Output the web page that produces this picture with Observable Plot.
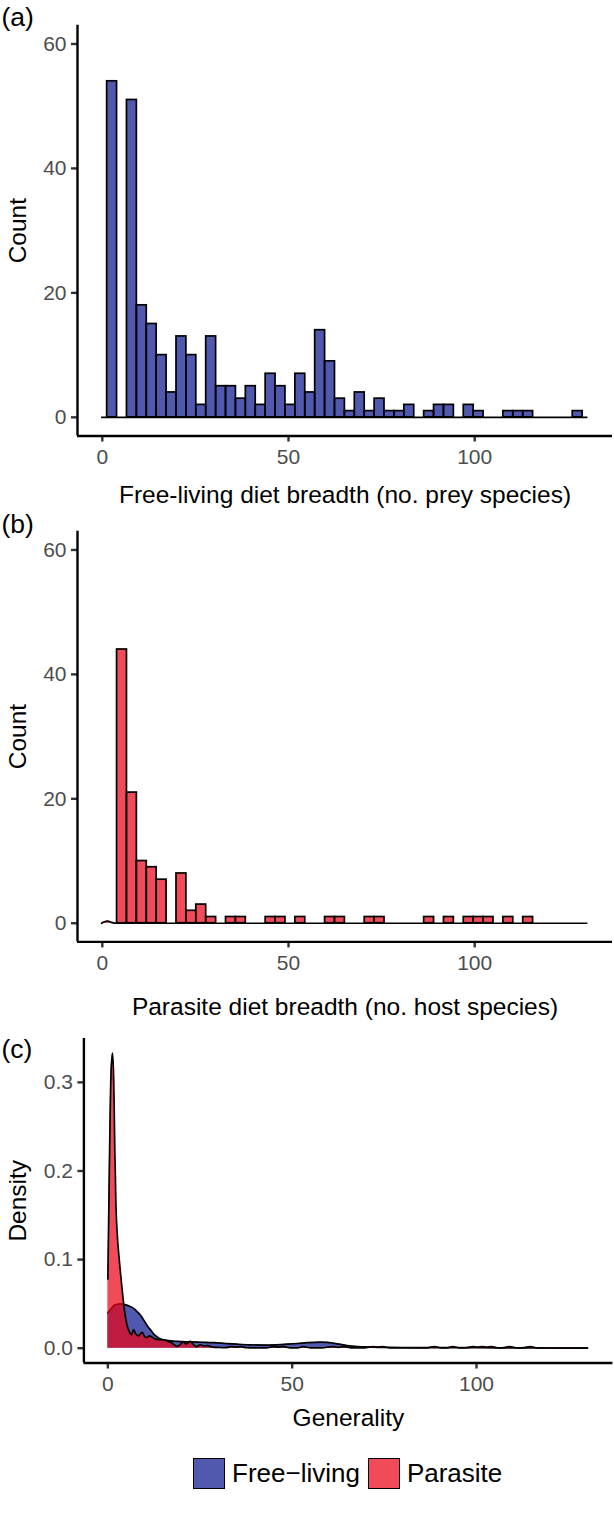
<!DOCTYPE html>
<html>
<head>
<meta charset="utf-8">
<script src="https://cdn.jsdelivr.net/npm/d3@7"></script>
<script src="https://cdn.jsdelivr.net/npm/@observablehq/plot@0.6"></script>
<style>
  body { margin: 0; background: #ffffff; }
  #root { position: relative; width: 614px; height: 1517px; overflow: hidden;
          font-family: "Liberation Sans", Arial, Helvetica, sans-serif; }
  .panel { position: absolute; left: 0; }
  #legend { position: absolute; left: 193px; top: 1458px; display: flex; align-items: center; }
  .key { width: 30px; height: 29px; border: 1.6px solid #000; }
  .lab { font-size: 26px; color: #000; margin-left: 7px; margin-right: 8px; line-height: 31px; }
</style>
</head>
<body>
<div id="root"></div>
<script>
// ---------- data ----------
// histogram bins (ggplot-style equal-width bins)
const binStart = 1.3;
const binWidth = 2.66;
const freeCounts = [54,0,51,18,15,10,4,13,10,2,13,5,5,3,5,2,7,5,2,7,4,14,9,3,1,4,1,3,1,1,2,0,1,2,2,0,2,1,0,0,1,1,1,0,0,0,0,1];
const parasiteCounts = [0,44,21,10,9,7,0,8,2,3,1,0,1,1,0,0,1,1,0,1,0,0,1,1,0,0,1,1,0,0,0,0,1,0,1,0,1,1,1,0,1,0,1,0,0,0,0,0];
const histRange = [-0.2, 130.4];
// small density wiggle at the start of panel (b)
const parasiteBump = [[-0.2,0],[0.6,0.25],[1.4,0.35],[2.2,0.2],[3.0,0.05],[4.0,0]];

// densities of generality: [generality, density]
const freeDensity = [[0,0.040],[0.8,0.044],[1.6,0.048],[2.5,0.0495],[3.4,0.050],[4.3,0.0495],[5.5,0.048],[7.0,0.045],[8.0,0.041],[8.8,0.0375],[9.7,0.032],[10.6,0.026],[11.5,0.021],[12.4,0.0162],[13.3,0.013],[14.2,0.0105],[16.0,0.0088],[18.8,0.0077],[22.4,0.0071],[25.5,0.0067],[28.8,0.0062],[32.0,0.0053],[35.1,0.0045],[38.5,0.0038],[42.4,0.0035],[45.5,0.0038],[48.7,0.0045],[51.5,0.0053],[54.1,0.0062],[57.7,0.0068],[59.5,0.0066],[61.4,0.0055],[63.2,0.0043],[65.0,0.003],[67.0,0.002],[69.5,0.0015],[74.0,0.001],[80.0,0.0008],[90.0,0.0007],[100.0,0.0005],[110.0,0.0004],[120.0,0.0002],[130.1,0.0001]];
const parasiteDensity = [[0,0.078],[0.3,0.17],[0.6,0.26],[0.9,0.315],[1.3,0.333],[1.6,0.30],[1.9,0.22],[2.2,0.16],[2.6,0.125],[3.0,0.104],[3.4,0.086],[3.9,0.065],[4.5,0.043],[5.2,0.026],[5.9,0.018],[6.4,0.015],[7.0,0.021],[7.6,0.016],[8.3,0.014],[9.3,0.018],[10.0,0.013],[10.6,0.012],[11.3,0.014],[12.0,0.0125],[12.8,0.0105],[13.6,0.0098],[14.4,0.0096],[15.2,0.0093],[16.2,0.008],[17.0,0.0066],[18.0,0.004],[18.8,0.0021],[19.6,0.004],[20.4,0.007],[21.2,0.0048],[22.4,0.0076],[23.2,0.004],[24.0,0.0018],[25.1,0.0039],[26.0,0.0025],[27.0,0.003],[28.5,0.0012],[30.5,0.0008],[32.0,0.0006],[33.5,0.0018],[35.0,0.0012],[36.0,0.0018],[37.5,0.0006],[40.0,0.0003],[43.0,0.0004],[45.0,0.0018],[46.3,0.0012],[47.5,0.0018],[49.5,0.0004],[51.5,0.0004],[53.0,0.0018],[55.0,0.0004],[58.0,0.0003],[61.0,0.0018],[62.5,0.001],[64.0,0.0018],[66.0,0.0004],[69.0,0.0002],[72.0,0.0018],[73.3,0.0011],[74.5,0.0018],[76.5,0.0004],[82.0,0.0002],[86.5,0.0004],[88.5,0.0018],[90.5,0.0004],[92.0,0.0004],[93.5,0.0018],[95.5,0.0004],[97.5,0.0006],[99.0,0.0018],[100.3,0.0012],[101.5,0.0018],[102.8,0.0012],[104.0,0.0018],[106.0,0.0004],[107.5,0.0006],[109.0,0.0018],[111.0,0.0004],[113.0,0.0006],[114.5,0.0018],[116.5,0.0004],[120.0,0.0002],[125.0,0.0001],[130.1,0.0001]];

// ticks and labels
const xTicks = [0, 50, 100];
const countTicks = [0, 20, 40, 60];
const densityTicks = [0, 0.1, 0.2, 0.3];
const tags = ["(a)", "(b)", "(c)"];
const xTitles = ["Free-living diet breadth (no. prey species)", "Parasite diet breadth (no. host species)", "Generality"];
const yTitles = ["Count", "Count", "Density"];
const legendLabels = ["Free\u2212living", "Parasite"];

// ---------- style ----------
const FONT = '"Liberation Sans", Arial, Helvetica, sans-serif';
const BLUE = "#05138A", RED = "#EC0418";
const BLUE_ALPHA = 0.7, RED_ALPHA = 0.72;
const TICK_FS = 21, TITLE_FS = 24.5, TAG_FS = 26.5;
const AXW = 2.4, OUTW = 1.7;

const bins = counts => counts.map((c, i) => ({x1: binStart + i * binWidth, x2: binStart + (i + 1) * binWidth, count: c})).filter(d => d.count > 0);

function axes(xDom, yDom, yTicks, yFmt) {
  return [
    Plot.axisX({ticks: xTicks, tickSize: 6, tickPadding: 7, fontSize: TICK_FS, fill: "#4D4D4D", stroke: "#333333", strokeWidth: AXW, label: null}),
    Plot.axisY({ticks: yTicks, tickSize: 6, tickPadding: 5, fontSize: TICK_FS, fill: "#4D4D4D", stroke: "#333333", strokeWidth: AXW, label: null, tickFormat: yFmt}),
    Plot.ruleX([xDom[0]], {stroke: "black", strokeWidth: AXW}),
    Plot.ruleY([yDom[0]], {stroke: "black", strokeWidth: AXW})
  ];
}
function labels(i, yTitleDx, xTitleDy, tagDx, tagDy) {
  return [
    Plot.text([tags[i]], {text: d => d, frameAnchor: "top-left", dx: tagDx, dy: tagDy, textAnchor: "start", lineAnchor: "bottom", fontSize: TAG_FS, fill: "black", fontFamily: FONT}),
    Plot.text([xTitles[i]], {text: d => d, frameAnchor: "bottom", dy: xTitleDy, textAnchor: "middle", lineAnchor: "bottom", fontSize: TITLE_FS, fill: "black", fontFamily: FONT}),
    Plot.text([yTitles[i]], {text: d => d, frameAnchor: "left", dx: yTitleDx, rotate: -90, textAnchor: "middle", lineAnchor: "bottom", fontSize: TITLE_FS, fill: "black", fontFamily: FONT})
  ];
}

const root = document.getElementById("root");
function place(svg, top) {
  const wrap = document.createElement("div");
  wrap.className = "panel";
  wrap.style.top = top + "px";
  wrap.appendChild(svg);
  root.appendChild(wrap);
}

const xDomAB = [-6.66, 137], yDomAB = [-3, 63];
const xDomC = [-6.5, 137], yDomC = [-0.0167, 0.3495];
const common = {width: 614, style: {fontFamily: FONT, fontSize: TICK_FS + "px", background: "transparent", overflow: "visible"}};

// (a)
place(Plot.plot({
  ...common, height: 506,
  marginTop: 24.8, marginBottom: 70.5, marginLeft: 77, marginRight: 2,
  x: {domain: xDomAB}, y: {domain: yDomAB},
  marks: [
    Plot.ruleY([0], {x1: histRange[0], x2: histRange[1], stroke: "black", strokeWidth: OUTW}),
    Plot.rectY(bins(freeCounts), {x1: "x1", x2: "x2", y: "count", fill: BLUE, fillOpacity: BLUE_ALPHA, stroke: "black", strokeWidth: OUTW}),
    ...axes(xDomAB, yDomAB, countTicks),
    ...labels(0, -51.7, 67, -76, 1)
  ]
}), 0);

// (b)
place(Plot.plot({
  ...common, height: 514,
  marginTop: 24.8, marginBottom: 78.6, marginLeft: 77, marginRight: 2,
  x: {domain: xDomAB}, y: {domain: yDomAB},
  marks: [
    Plot.areaY(parasiteBump, {x: d => d[0], y: d => d[1], fill: RED, fillOpacity: RED_ALPHA, curve: "monotone-x"}),
    Plot.lineY(parasiteBump, {x: d => d[0], y: d => d[1], stroke: "black", strokeWidth: OUTW, curve: "monotone-x"}),
    Plot.ruleY([0], {x1: parasiteBump[parasiteBump.length - 1][0], x2: histRange[1], stroke: "black", strokeWidth: OUTW}),
    Plot.rectY(bins(parasiteCounts), {x1: "x1", x2: "x2", y: "count", fill: RED, fillOpacity: RED_ALPHA, stroke: "black", strokeWidth: OUTW}),
    ...axes(xDomAB, yDomAB, countTicks),
    ...labels(1, -51.7, 73, -76, 2)
  ]
}), 506);

// (c)
place(Plot.plot({
  ...common, height: 430,
  marginTop: 18, marginBottom: 87.5, marginLeft: 83.4, marginRight: 1.6,
  x: {domain: xDomC}, y: {domain: yDomC},
  marks: [
    Plot.areaY(freeDensity, {x: d => d[0], y: d => d[1], fill: BLUE, fillOpacity: BLUE_ALPHA, curve: "monotone-x"}),
    Plot.lineY(freeDensity, {x: d => d[0], y: d => d[1], stroke: "black", strokeWidth: OUTW, curve: "monotone-x"}),
    Plot.areaY(parasiteDensity, {x: d => d[0], y: d => d[1], fill: RED, fillOpacity: RED_ALPHA, curve: "monotone-x"}),
    Plot.lineY(parasiteDensity, {x: d => d[0], y: d => d[1], stroke: "black", strokeWidth: OUTW, curve: "monotone-x"}),
    ...axes(xDomC, yDomC, densityTicks, d3.format(".1f")),
    ...labels(2, -58.1, 62.5, -82.4, 19)
  ]
}), 1020);

// legend
const legend = document.createElement("div");
legend.id = "legend";
const legendColors = [[BLUE, BLUE_ALPHA], [RED, RED_ALPHA]];
legendLabels.forEach((lab, i) => {
  const key = document.createElement("div");
  key.className = "key";
  const c = d3.color(legendColors[i][0]); c.opacity = legendColors[i][1];
  key.style.background = c.formatRgb();
  const t = document.createElement("span");
  t.className = "lab";
  t.textContent = lab;
  legend.appendChild(key);
  legend.appendChild(t);
});
root.appendChild(legend);
</script>
</body>
</html>
